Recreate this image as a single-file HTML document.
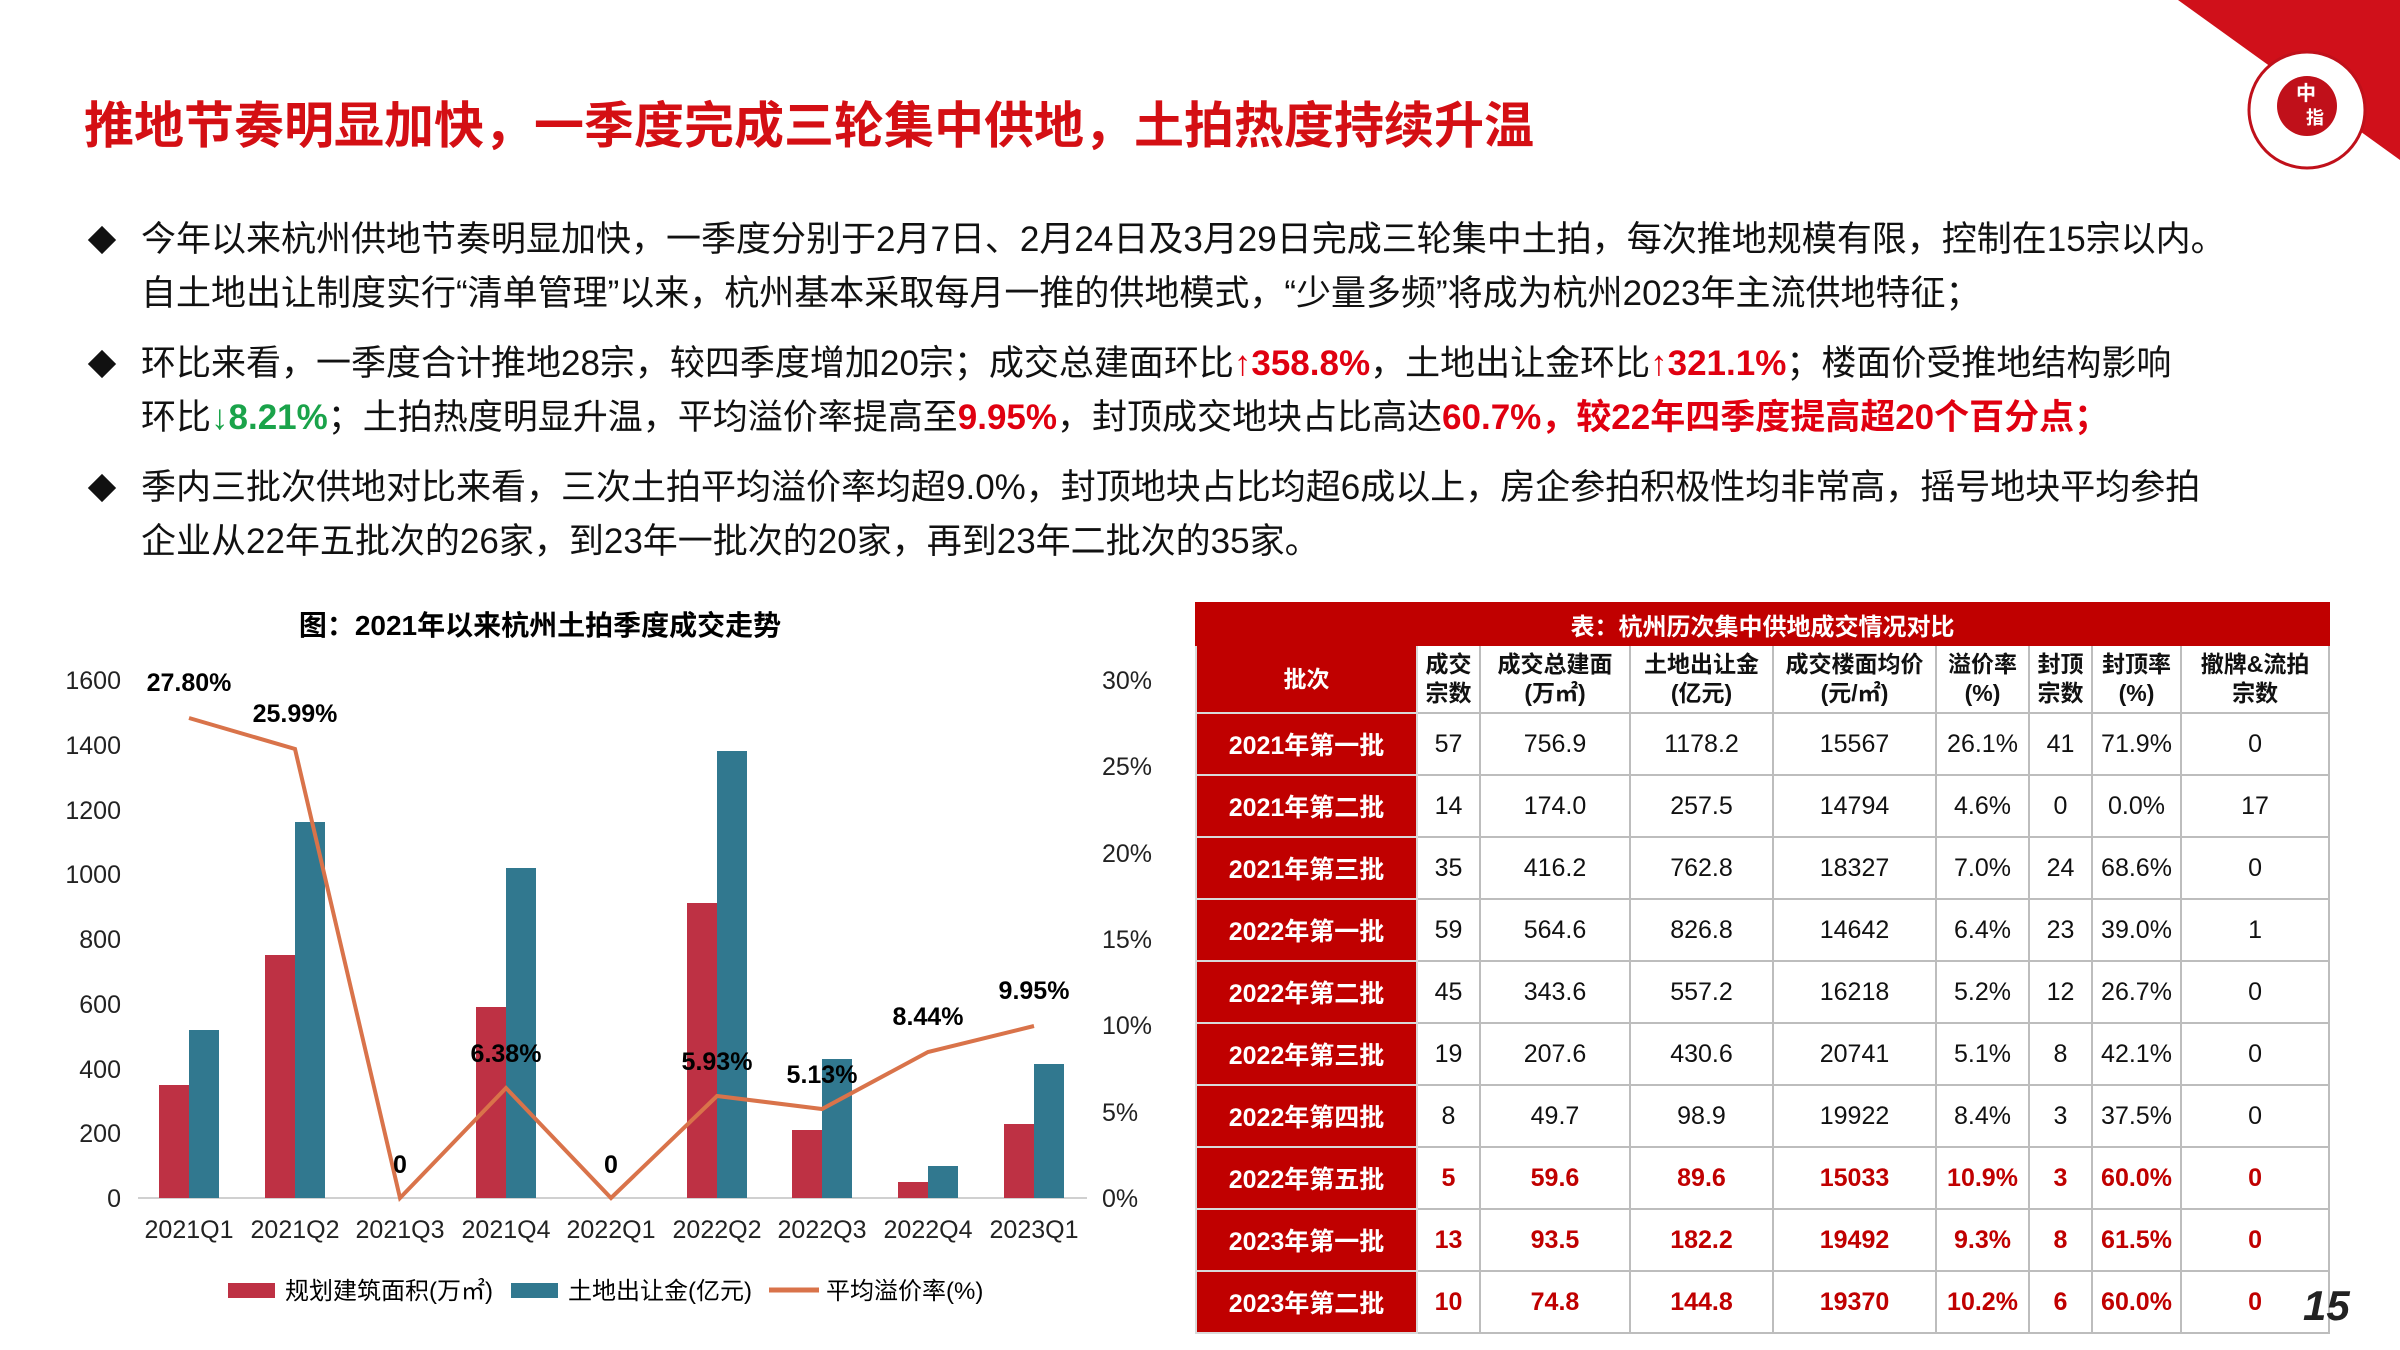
<!DOCTYPE html>
<html><head><meta charset="utf-8">
<style>
*{margin:0;padding:0;box-sizing:border-box}
body{width:2400px;height:1350px;background:#fff;position:relative;overflow:hidden;font-family:"Liberation Sans","Noto Sans CJK SC",sans-serif;color:#111}
.t{position:absolute;white-space:nowrap}
.title{left:84px;top:86px;font-size:50px;font-weight:bold;color:#d40f14}
.p{left:141px;font-size:35px;line-height:40px}
.dia{position:absolute;left:92px;width:20px;height:20px;background:#111;transform:rotate(45deg)}
.r{color:#e00010;font-weight:bold}
.g{color:#1aa34a;font-weight:bold}
table{position:absolute;left:1195px;top:602px;width:1133px;border-collapse:collapse;font-size:25px;table-layout:fixed}
td{border:2px solid #bdbdbd;text-align:center;height:62px;padding:0}
td.c1{background:#c00000;color:#fff;font-weight:bold;border-color:#d9d9d9}
tr.hd td{height:68px;font-weight:bold;font-size:23px;line-height:29px}
tr.cap td{background:#c00000;color:#fff;font-weight:bold;height:42px;font-size:24px;border-color:#c00000}
tr.red td{color:#c00000;font-weight:bold}
</style></head><body>
<svg style="position:absolute;left:0;top:0" width="2400" height="1350">
<polygon points="2178,0 2400,0 2400,160" fill="#d0101a"/>
<circle cx="2307" cy="110" r="58" fill="#fff" stroke="#c0101a" stroke-width="3"/>
<circle cx="2307" cy="106" r="30" fill="#c0101a"/>
<text x="2296" y="100" font-size="20" fill="#fff" font-family="Noto Sans CJK SC" font-weight="bold">中</text>
<text x="2306" y="124" font-size="18" fill="#fff" font-family="Noto Sans CJK SC" font-weight="bold">指</text>
</svg>
<div class="t title">推地节奏明显加快，一季度完成三轮集中供地，土拍热度持续升温</div>

<div class="dia" style="top:230px"></div>
<div class="t p" style="top:220px">今年以来杭州供地节奏明显加快，一季度分别于2月7日、2月24日及3月29日完成三轮集中土拍，每次推地规模有限，控制在15宗以内。</div>
<div class="t p" style="top:274px">自土地出让制度实行“清单管理”以来，杭州基本采取每月一推的供地模式，“少量多频”将成为杭州2023年主流供地特征；</div>
<div class="dia" style="top:354px"></div>
<div class="t p" style="top:344px">环比来看，一季度合计推地28宗，较四季度增加20宗；成交总建面环比<span class="r">↑358.8%</span>，土地出让金环比<span class="r">↑321.1%</span>；楼面价受推地结构影响</div>
<div class="t p" style="top:398px">环比<span class="g">↓8.21%</span>；土拍热度明显升温，平均溢价率提高至<span class="r">9.95%</span>，封顶成交地块占比高达<span class="r">60.7%，较22年四季度提高超20个百分点；</span></div>
<div class="dia" style="top:478px"></div>
<div class="t p" style="top:468px">季内三批次供地对比来看，三次土拍平均溢价率均超9.0%，封顶地块占比均超6成以上，房企参拍积极性均非常高，摇号地块平均参拍</div>
<div class="t p" style="top:522px">企业从22年五批次的26家，到23年一批次的20家，再到23年二批次的35家。</div>

<svg style="position:absolute;left:0;top:0" width="1190" height="1350" font-family="Liberation Sans,Noto Sans CJK SC,sans-serif">
<text x="540" y="635" font-size="28" font-weight="bold" text-anchor="middle">图：2021年以来杭州土拍季度成交走势</text>
<g font-size="25" fill="#222" text-anchor="end">
<text x="121" y="689">1600</text><text x="121" y="754">1400</text><text x="121" y="819">1200</text><text x="121" y="883">1000</text><text x="121" y="948">800</text><text x="121" y="1013">600</text><text x="121" y="1078">400</text><text x="121" y="1142">200</text><text x="121" y="1207">0</text>
</g>
<g font-size="25" fill="#222">
<text x="1102" y="689">30%</text><text x="1102" y="775">25%</text><text x="1102" y="862">20%</text><text x="1102" y="948">15%</text><text x="1102" y="1034">10%</text><text x="1102" y="1121">5%</text><text x="1102" y="1207">0%</text>
</g>
<line x1="138" y1="1198" x2="1087" y2="1198" stroke="#d0d0d0" stroke-width="2"/>
<g fill="#be3144">
<rect x="159" y="1085" width="30" height="113"/><rect x="265" y="955" width="30" height="243"/><rect x="476" y="1007" width="30" height="191"/><rect x="687" y="903" width="30" height="295"/><rect x="792" y="1130" width="30" height="68"/><rect x="898" y="1182" width="30" height="16"/><rect x="1004" y="1124" width="30" height="74"/>
</g>
<g fill="#31788f">
<rect x="189" y="1030" width="30" height="168"/><rect x="295" y="822" width="30" height="376"/><rect x="506" y="868" width="30" height="330"/><rect x="717" y="751" width="30" height="447"/><rect x="822" y="1059" width="30" height="139"/><rect x="928" y="1166" width="30" height="32"/><rect x="1034" y="1064" width="30" height="134"/>
</g>
<polyline points="189,718 295,749 400,1198 506,1088 611,1198 717,1096 822,1109 928,1052 1034,1026" fill="none" stroke="#d9734a" stroke-width="4"/>
<g font-size="25" font-weight="bold" text-anchor="middle">
<text x="189" y="691">27.80%</text><text x="295" y="722">25.99%</text><text x="400" y="1173">0</text><text x="506" y="1062">6.38%</text><text x="611" y="1173">0</text><text x="717" y="1070">5.93%</text><text x="822" y="1083">5.13%</text><text x="928" y="1025">8.44%</text><text x="1034" y="999">9.95%</text>
</g>
<g font-size="25" fill="#222" text-anchor="middle">
<text x="189" y="1238">2021Q1</text><text x="295" y="1238">2021Q2</text><text x="400" y="1238">2021Q3</text><text x="506" y="1238">2021Q4</text><text x="611" y="1238">2022Q1</text><text x="717" y="1238">2022Q2</text><text x="822" y="1238">2022Q3</text><text x="928" y="1238">2022Q4</text><text x="1034" y="1238">2023Q1</text>
</g>
<rect x="228" y="1283" width="47" height="15" fill="#be3144"/>
<text x="285" y="1299" font-size="24">规划建筑面积(万㎡)</text>
<rect x="511" y="1283" width="47" height="15" fill="#31788f"/>
<text x="568" y="1299" font-size="24">土地出让金(亿元)</text>
<line x1="769" y1="1290" x2="819" y2="1290" stroke="#d9734a" stroke-width="5"/>
<text x="826" y="1299" font-size="24">平均溢价率(%)</text>
</svg>

<table>
<colgroup><col style="width:221px"><col style="width:63px"><col style="width:150px"><col style="width:143px"><col style="width:163px"><col style="width:93px"><col style="width:63px"><col style="width:89px"><col style="width:148px"></colgroup>
<tr class="cap"><td colspan="9">表：杭州历次集中供地成交情况对比</td></tr>
<tr class="hd"><td class="c1">批次</td><td>成交<br>宗数</td><td>成交总建面<br>(万㎡)</td><td>土地出让金<br>(亿元)</td><td>成交楼面均价<br>(元/㎡)</td><td>溢价率<br>(%)</td><td>封顶<br>宗数</td><td>封顶率<br>(%)</td><td>撤牌&amp;流拍<br>宗数</td></tr>
<tr><td class="c1">2021年第一批</td><td>57</td><td>756.9</td><td>1178.2</td><td>15567</td><td>26.1%</td><td>41</td><td>71.9%</td><td>0</td></tr>
<tr><td class="c1">2021年第二批</td><td>14</td><td>174.0</td><td>257.5</td><td>14794</td><td>4.6%</td><td>0</td><td>0.0%</td><td>17</td></tr>
<tr><td class="c1">2021年第三批</td><td>35</td><td>416.2</td><td>762.8</td><td>18327</td><td>7.0%</td><td>24</td><td>68.6%</td><td>0</td></tr>
<tr><td class="c1">2022年第一批</td><td>59</td><td>564.6</td><td>826.8</td><td>14642</td><td>6.4%</td><td>23</td><td>39.0%</td><td>1</td></tr>
<tr><td class="c1">2022年第二批</td><td>45</td><td>343.6</td><td>557.2</td><td>16218</td><td>5.2%</td><td>12</td><td>26.7%</td><td>0</td></tr>
<tr><td class="c1">2022年第三批</td><td>19</td><td>207.6</td><td>430.6</td><td>20741</td><td>5.1%</td><td>8</td><td>42.1%</td><td>0</td></tr>
<tr><td class="c1">2022年第四批</td><td>8</td><td>49.7</td><td>98.9</td><td>19922</td><td>8.4%</td><td>3</td><td>37.5%</td><td>0</td></tr>
<tr class="red"><td class="c1" style="color:#fff">2022年第五批</td><td>5</td><td>59.6</td><td>89.6</td><td>15033</td><td>10.9%</td><td>3</td><td>60.0%</td><td>0</td></tr>
<tr class="red"><td class="c1" style="color:#fff">2023年第一批</td><td>13</td><td>93.5</td><td>182.2</td><td>19492</td><td>9.3%</td><td>8</td><td>61.5%</td><td>0</td></tr>
<tr class="red"><td class="c1" style="color:#fff">2023年第二批</td><td>10</td><td>74.8</td><td>144.8</td><td>19370</td><td>10.2%</td><td>6</td><td>60.0%</td><td>0</td></tr>
</table>
<div class="t" style="left:2303px;top:1282px;font-size:42px;font-weight:bold;font-style:italic;color:#222">15</div>
</body></html>
